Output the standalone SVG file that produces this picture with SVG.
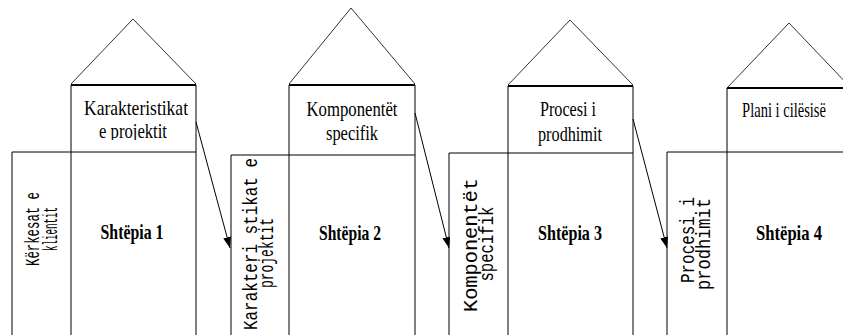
<svg xmlns="http://www.w3.org/2000/svg" width="843" height="335" viewBox="0 0 843 335">
<style>
  .ln { stroke: #000; stroke-width: 1; fill: none; }
  .roof { stroke: #333; stroke-width: 1; fill: none; }
  .thick { stroke: #000; stroke-width: 2; fill: none; }
  .tt { font-family: "Liberation Serif", "Times New Roman", serif; font-size: 22px; fill: #000; text-anchor: middle; }
  .hb { font-family: "Liberation Serif", "Times New Roman", serif; font-size: 21px; font-weight: bold; fill: #000; text-anchor: middle; }
  .vt { font-family: "Liberation Mono", "Courier New", monospace; font-size: 21px; fill: #000; text-anchor: middle; }
  .arr { stroke: #000; stroke-width: 1; fill: none; marker-end: url(#ah); }
</style>
<defs>
  <marker id="ah" markerUnits="userSpaceOnUse" markerWidth="12" markerHeight="10" refX="11" refY="4" orient="auto">
    <path d="M0,0 L11,4 L0,8 Z" fill="#000"/>
  </marker>
  <clipPath id="c1"><rect x="71" y="86" width="125" height="54"/></clipPath>
</defs>
<rect width="843" height="335" fill="#fff"/>

<g id="house1">
  <path class="roof" d="M71,84 L133,19 L196,84"/>
  <path class="thick" d="M71,85 H196"/>
  <path class="ln" d="M71,85 V335 M196,85 V335 M12,152 H196 M12,152 V335"/>
  <g clip-path="url(#c1)">
    <text class="tt" x="136" y="115" textLength="104" lengthAdjust="spacingAndGlyphs">Karakteristikat</text>
    <text class="tt" x="133" y="138" textLength="68" lengthAdjust="spacingAndGlyphs">e projektit</text>
  </g>
  <text class="hb" x="132" y="239" textLength="63" lengthAdjust="spacingAndGlyphs">Shtëpia 1</text>
  <g transform="translate(0,229) rotate(-90)">
    <text class="vt" x="0" y="39" textLength="74" lengthAdjust="spacingAndGlyphs">Kërkesat e</text>
    <text class="vt" x="0" y="57" textLength="44" lengthAdjust="spacingAndGlyphs">klientit</text>
  </g>
</g>

<g id="house2">
  <path class="roof" d="M289,84 L351,8 L415,84"/>
  <path class="thick" d="M289,85 H415"/>
  <path class="ln" d="M289,85 V335 M415,85 V335 M231,155 H415 M231,155 V335"/>
  <text class="tt" x="352" y="116" textLength="91" lengthAdjust="spacingAndGlyphs">Komponentët</text>
  <text class="tt" x="352" y="140" textLength="52" lengthAdjust="spacingAndGlyphs">specifik</text>
  <text class="hb" x="350" y="240" textLength="62" lengthAdjust="spacingAndGlyphs">Shtëpia 2</text>
  <g transform="translate(0,244) rotate(-90)">
    <text class="vt" x="0" y="257" textLength="172" lengthAdjust="spacingAndGlyphs">Karakteri stikat e</text>
    <text class="vt" x="-9" y="273" textLength="70" lengthAdjust="spacingAndGlyphs">projektit</text>
  </g>
</g>

<g id="house3">
  <path class="roof" d="M508,85 L570,20 L633,85"/>
  <path class="thick" d="M508,86 H633"/>
  <path class="ln" d="M508,86 V335 M633,86 V335 M449,153 H633 M449,153 V335"/>
  <text class="tt" x="568" y="116" textLength="56" lengthAdjust="spacingAndGlyphs">Procesi i</text>
  <text class="tt" x="570" y="141" textLength="64" lengthAdjust="spacingAndGlyphs">prodhimit</text>
  <text class="hb" x="570" y="240" textLength="64" lengthAdjust="spacingAndGlyphs">Shtëpia 3</text>
  <g transform="translate(0,245) rotate(-90)">
    <text class="vt" x="0" y="477" textLength="134" lengthAdjust="spacingAndGlyphs">Komponentët</text>
    <text class="vt" x="1" y="493" textLength="75" lengthAdjust="spacingAndGlyphs">specifik</text>
  </g>
</g>

<g id="house4">
  <path class="roof" d="M727,88 L789,23 L851,88"/>
  <path class="thick" d="M727,88 H843"/>
  <path class="ln" d="M727,88 V335 M667,152 H843 M667,152 V335"/>
  <text class="tt" transform="translate(784,117) scale(0.66,1)" x="0" y="0">Plani i cilësisë</text>
  <text class="hb" x="789" y="240" textLength="66" lengthAdjust="spacingAndGlyphs">Shtëpia 4</text>
  <g transform="translate(0,242) rotate(-90)">
    <text class="vt" x="2" y="694" textLength="86" lengthAdjust="spacingAndGlyphs">Procesi i</text>
    <text class="vt" x="-2" y="710" textLength="92" lengthAdjust="spacingAndGlyphs">prodhimit</text>
  </g>
</g>

<g id="connectors">
  <path class="arr" d="M196,122 L230,248"/>
  <path class="arr" d="M415,113 L449,248"/>
  <path class="arr" d="M633,119 L667,248"/>
</g>
</svg>
